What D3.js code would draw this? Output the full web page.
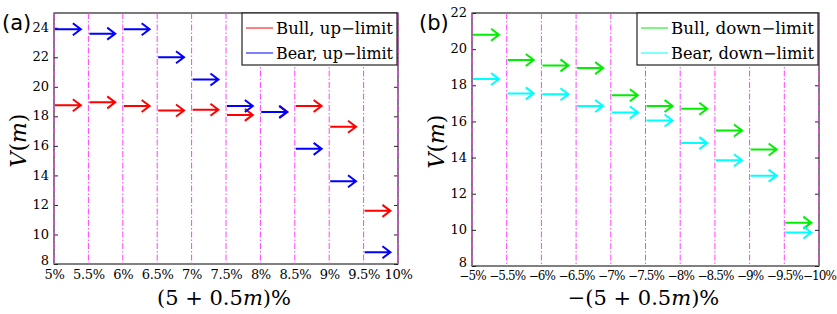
<!DOCTYPE html>
<html>
<head>
<meta charset="utf-8">
<script src="https://cdn.jsdelivr.net/npm/d3@7"></script>
<style>
    body { margin: 0; background: #fff; }
</style>
</head>
<body>
<svg id="chart" width="837" height="314"></svg>
<script>
// limit levels (in %) at which each arrow starts
var limitLevels = [5, 5.5, 6, 6.5, 7, 7.5, 8, 8.5, 9, 9.5];
var xTickValues = [5, 5.5, 6, 6.5, 7, 7.5, 8, 8.5, 9, 9.5, 10];
var upTickLabels = ["5%", "5.5%", "6%", "6.5%", "7%", "7.5%", "8%", "8.5%", "9%", "9.5%", "10%"];
var downTickLabels = ["\u22125%", "\u22125.5%", "\u22126%", "\u22126.5%", "\u22127%", "\u22127.5%", "\u22128%", "\u22128.5%", "\u22129%", "\u22129.5%", "\u221210%"];

// panel (a): up-limit
var bullUp = [18.75, 18.95, 18.7, 18.4, 18.45, 18.1, 18.3, 18.7, 17.3, 11.6];
var bearUp = [23.9, 23.6, 23.9, 22.0, 20.5, 18.7, 18.3, 15.8, 13.6, 8.8];
var upYTicks = [8, 10, 12, 14, 16, 18, 20, 22, 24];

// panel (b): down-limit
var bullDown = [20.8, 19.4, 19.1, 18.95, 17.45, 16.85, 16.7, 15.5, 14.45, 10.4];
var bearDown = [18.35, 17.55, 17.5, 16.85, 16.5, 16.05, 14.8, 13.85, 13.0, 9.85];
var downYTicks = [8, 10, 12, 14, 16, 18, 20, 22];

(function () {
    'use strict';

    var svg = d3.select("svg#chart");
    var serif = "DejaVu Serif";
    var arrowSpan = 0.39;

    drawPanel({
        left: 54, right: 398, top: 13, bottom: 264,
        yDomain: [8, 25], yTicks: upYTicks, xLabels: upTickLabels,
        tag: "(a)", tagX: 2, minus: false,
        legendX: 242, legendW: 155,
        series: [
            {name: "Bull, up\u2212limit", color: "#ff0000", values: bullUp},
            {name: "Bear, up\u2212limit", color: "#0000ff", values: bearUp}
        ]
    });

    drawPanel({
        left: 472, right: 819, top: 13, bottom: 266,
        yDomain: [8, 22], yTicks: downYTicks, xLabels: downTickLabels,
        tag: "(b)", tagX: 419, minus: true,
        legendX: 637, legendW: 181,
        series: [
            {name: "Bull, down\u2212limit", color: "#00ee00", values: bullDown},
            {name: "Bear, down\u2212limit", color: "#00ffff", values: bearDown}
        ]
    });

    function drawPanel(p) {
        var x = d3.scaleLinear().domain([5, 10]).range([p.left, p.right]);
        var y = d3.scaleLinear().domain(p.yDomain).range([p.bottom, p.top]);
        var g = svg.append("g").attr("font-family", serif);

        // frame
        g.append("rect")
            .attr("x", p.left).attr("y", p.top)
            .attr("width", p.right - p.left).attr("height", p.bottom - p.top)
            .attr("fill", "none").attr("stroke", "#222").attr("stroke-width", 1.2);
        g.append("line")
            .attr("x1", p.left).attr("x2", p.right)
            .attr("y1", p.bottom).attr("y2", p.bottom)
            .attr("stroke", "#808080").attr("stroke-width", 2);

        // y axes, ticks inside on both sides
        var yl = g.append("g")
            .attr("transform", "translate(" + p.left + ",0)")
            .call(d3.axisLeft(y).tickValues(p.yTicks).tickSizeInner(-4).tickSizeOuter(0).tickPadding(5));
        var yr = g.append("g")
            .attr("transform", "translate(" + p.right + ",0)")
            .call(d3.axisRight(y).tickValues(p.yTicks).tickSizeInner(-4).tickSizeOuter(0).tickFormat(""));
        [yl, yr].forEach(function (a) {
            a.attr("font-family", serif).attr("font-size", 13);
            a.select(".domain").remove();
            a.selectAll("line").attr("stroke", "#222");
        });
        yl.selectAll("text").attr("dy", function (d, i) { return i === 0 ? "0.02em" : "0.28em"; });

        // x axis labels
        var xa = g.append("g")
            .attr("transform", "translate(0," + p.bottom + ")")
            .call(d3.axisBottom(x).tickValues(xTickValues).tickSize(0).tickPadding(p.minus ? 5 : 6)
                .tickFormat(function (d, i) { return p.xLabels[i]; }));
        xa.attr("font-family", serif).attr("font-size", p.minus ? 12 : 13);
        xa.select(".domain").remove();
        xa.selectAll("text")
            .attr("letter-spacing", p.minus ? "-0.9px" : "-0.3px");

        // magenta dash-dot grid lines
        g.selectAll(".grid")
            .data(xTickValues)
            .enter().append("line")
            .attr("class", "grid")
            .attr("x1", function (d) { return x(d); })
            .attr("x2", function (d) { return x(d); })
            .attr("y1", p.top).attr("y2", p.bottom)
            .attr("stroke", "#ff40ff")
            .attr("stroke-width", 1)
            .attr("stroke-dasharray", "6,2,1.5,2");

        // arrows
        p.series.forEach(function (s) {
            var arrows = g.selectAll(null)
                .data(s.values)
                .enter().append("g");
            arrows.append("path")
                .attr("d", function (d, i) {
                    var x0 = x(limitLevels[i]) + 1, x1 = x(limitLevels[i] + arrowSpan), yy = y(d);
                    return "M" + x0 + "," + yy + "H" + x1 +
                        "M" + (x1 - 8) + "," + (yy - 6) + "L" + x1 + "," + yy + "L" + (x1 - 8) + "," + (yy + 6);
                })
                .attr("fill", "none")
                .attr("stroke", s.color)
                .attr("stroke-width", 2);
        });

        // legend
        var lg = g.append("g").attr("transform", "translate(" + p.legendX + "," + p.top + ")");
        lg.append("rect")
            .attr("width", p.legendW).attr("height", 52)
            .attr("fill", "#fff").attr("stroke", "#222").attr("stroke-width", 1.2);
        p.series.forEach(function (s, i) {
            lg.append("line")
                .attr("x1", 4).attr("x2", 31)
                .attr("y1", 15 + i * 25).attr("y2", 15 + i * 25)
                .attr("stroke", s.color).attr("stroke-width", 1);
            lg.append("text")
                .attr("x", 34).attr("y", 21 + i * 25)
                .attr("font-size", 16)
                .attr("textLength", p.legendW - 38)
                .attr("lengthAdjust", "spacingAndGlyphs")
                .text(s.name);
        });

        // axis titles
        var cx = (p.left + p.right) / 2 - 2;
        var xt = g.append("text")
            .attr("x", cx).attr("y", 305)
            .attr("text-anchor", "middle")
            .attr("font-size", 21);
        if (p.minus) xt.append("tspan").text("\u2212");
        xt.append("tspan").text("(5 + 0.5");
        xt.append("tspan").attr("font-style", "italic").text("m");
        xt.append("tspan").text(")%");

        var yt = g.append("text")
            .attr("transform", "translate(" + (p.left - 28) + "," + ((p.top + p.bottom) / 2 + 2) + ") rotate(-90)")
            .attr("text-anchor", "middle")
            .attr("font-size", 22);
        yt.append("tspan").attr("font-style", "italic").text("V");
        yt.append("tspan").text("(");
        yt.append("tspan").attr("font-style", "italic").text("m");
        yt.append("tspan").text(")");

        // panel tag
        g.append("text")
            .attr("x", p.tagX).attr("y", 30)
            .attr("font-family", "DejaVu Sans")
            .attr("font-size", 21)
            .text(p.tag);
    }
})();
</script>
</body>
</html>
